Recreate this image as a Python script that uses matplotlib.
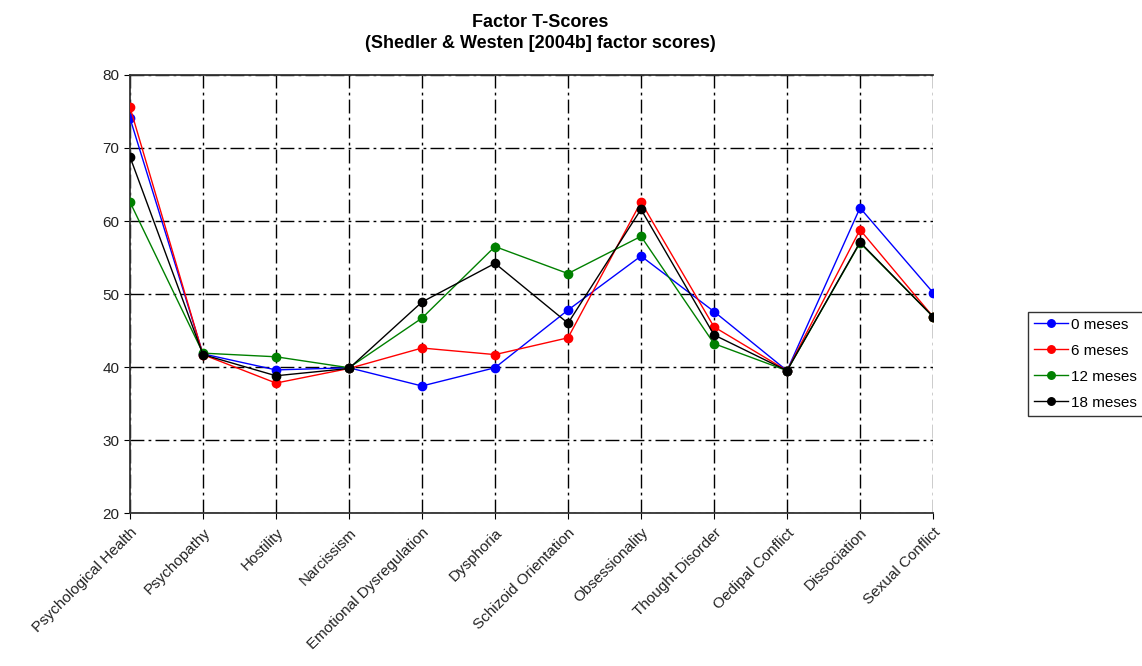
import numpy as np
import matplotlib.pyplot as plt

plt.rcParams['font.family'] = ['Liberation Sans', 'DejaVu Sans']

categories = ['Psychological Health', 'Psychopathy', 'Hostility', 'Narcissism',
              'Emotional Dysregulation', 'Dysphoria', 'Schizoid Orientation',
              'Obsessionality', 'Thought Disorder', 'Oedipal Conflict',
              'Dissociation', 'Sexual Conflict']

meses_0 = [74.1, 41.8, 39.6, 39.9, 37.4, 39.9, 47.8, 55.2, 47.6, 39.5, 61.8, 50.2]
meses_6 = [75.6, 41.7, 37.8, 39.8, 42.6, 41.7, 44.0, 62.6, 45.5, 39.5, 58.8, 46.9]
meses_12 = [62.6, 41.9, 41.4, 39.9, 46.7, 56.5, 52.8, 57.9, 43.2, 39.5, 57.0, 46.9]
meses_18 = [68.8, 41.7, 38.8, 39.8, 48.9, 54.2, 46.0, 61.6, 44.4, 39.5, 57.1, 46.9]

series = [('0 meses', meses_0, '#0000ff'),
          ('6 meses', meses_6, '#ff0000'),
          ('12 meses', meses_12, '#008000'),
          ('18 meses', meses_18, '#000000')]

fig = plt.figure(figsize=(11.42, 6.66), dpi=100)
ax = fig.add_axes([0.1138, 0.2297, 0.7032, 0.6577])

x = np.arange(len(categories))
for name, vals, col in series:
    ax.plot(x, vals, color=col, lw=1, marker='o', ms=6, label=name, zorder=3)

ax.set_xlim(0, len(categories) - 1)
ax.set_ylim(20, 80)
ax.set_yticks([20, 30, 40, 50, 60, 70, 80])
ax.set_xticks(x)
ax.set_xticklabels(categories, rotation=45, ha='right', rotation_mode='anchor',
                   fontsize=11, color='#222222')
ax.tick_params(axis='y', labelsize=11, length=4, direction='out', labelcolor='#222222')
ax.tick_params(axis='x', length=4, direction='out', pad=5)

ax.set_axisbelow(True)
ax.grid(True, color='black', lw=1, linestyle=(0, (10, 3, 2, 3)))
ax.spines['right'].set_visible(False)
for s in ['left', 'bottom', 'top']:
    ax.spines[s].set_color('#333333')
    ax.spines[s].set_linewidth(1.3)
    ax.spines[s].set_zorder(2.5)

fig.text(0.473, 0.95, 'Factor T-Scores\n(Shedler & Westen [2004b] factor scores)',
         ha='center', va='center', fontsize=13, fontweight='bold', linespacing=1.3)

leg = fig.legend(loc='upper left', bbox_to_anchor=(0.9, 0.532), borderaxespad=0,
                 frameon=True, fancybox=False, edgecolor='black', fontsize=11,
                 handlelength=2.2, handletextpad=0.2, borderpad=0.4,
                 labelspacing=0.78, markerscale=0.9)
leg.get_frame().set_linewidth(1)

fig.savefig('out.png', dpi=100)
